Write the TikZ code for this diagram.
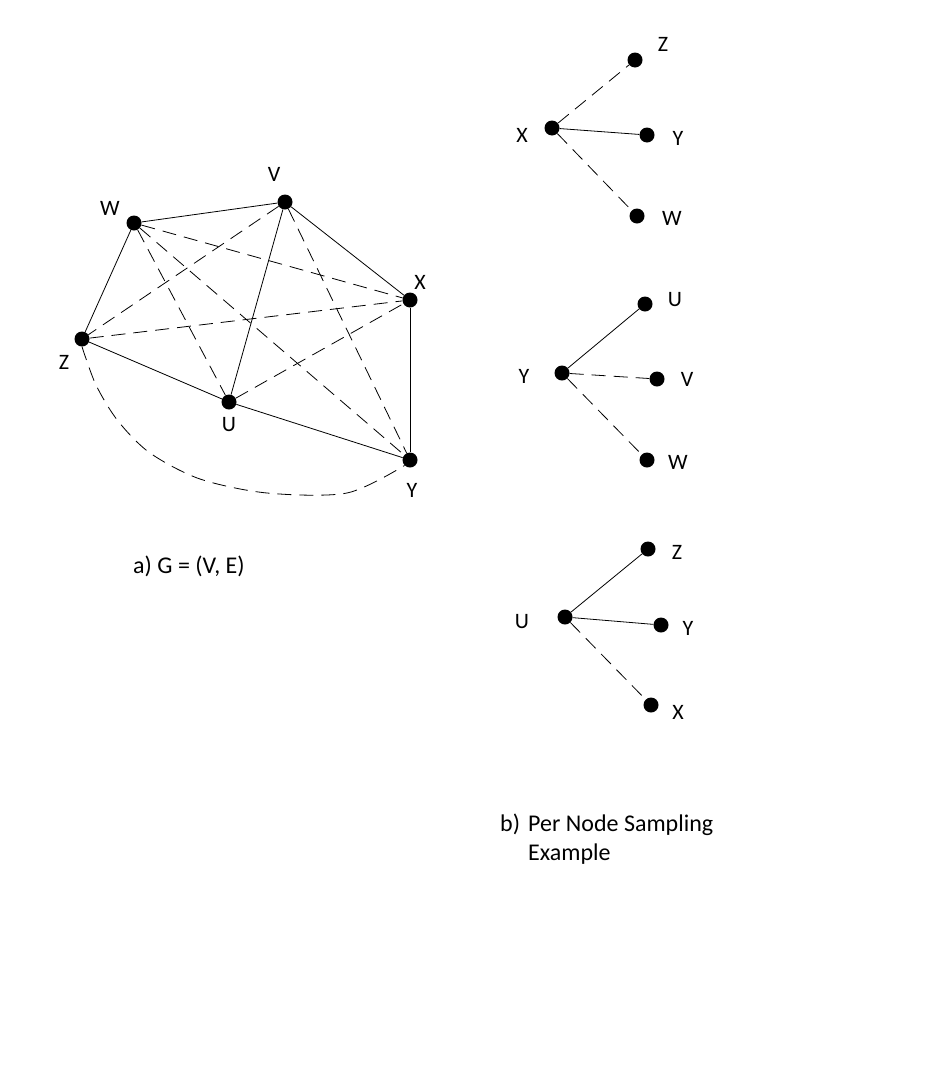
\documentclass[tikz,border=0pt]{standalone}
\usepackage{fontspec}
\setmainfont{Carlito}
\begin{document}
\begin{tikzpicture}[x=1pt,y=-1pt,
  dot/.style={circle,fill=black,inner sep=0pt,minimum size=15pt},
  lab/.style={inner sep=0pt,font=\fontsize{22}{26}\selectfont},
  captxt/.style={inner sep=0pt,font=\fontsize{24}{29}\selectfont},
  edge/.style={line width=0.8pt},
  dedge/.style={line width=0.8pt,dash pattern=on 14pt off 8pt}]
\useasboundingbox (0,0) rectangle (934,1082);
% left graph
\node[dot] (W) at (134,223) {};
\node[dot] (V) at (285,202) {};
\node[dot] (X) at (410,300) {};
\node[dot] (Z) at (82,339) {};
\node[dot] (U) at (229,402) {};
\node[dot] (Y) at (410,460) {};
\node[lab] (lW) at (110,208) {W};
\node[lab] (lV) at (274,174) {V};
\node[lab] (lX) at (420,282) {X};
\node[lab] (lZ) at (64,362) {Z};
\node[lab] (lU) at (229,425) {U};
\node[lab] (lY) at (412,490) {Y};
\draw[edge] (W) -- (V);
\draw[edge] (V) -- (X);
\draw[edge] (W) -- (Z);
\draw[edge] (V) -- (U);
\draw[edge] (X) -- (Y);
\draw[edge] (Z) -- (U);
\draw[edge] (U) -- (Y);
\draw[dedge] (W) -- (X);
\draw[dedge] (W) -- (U);
\draw[dedge] (W) -- (Y);
\draw[dedge] (V) -- (Z);
\draw[dedge] (V) -- (Y);
\draw[dedge] (Z) -- (X);
\draw[dedge] (U) -- (X);
\coordinate (c1) at (96,385);
\coordinate (c2) at (118,421);
\coordinate (c3) at (150,453);
\coordinate (c4) at (200,479);
\coordinate (c5) at (267,493);
\coordinate (c6) at (347,493);
\draw[dedge] plot[smooth,tension=0.5] coordinates {(Z.south) (c1) (c2) (c3) (c4) (c5) (c6) (Y.south west)};
\node[captxt,anchor=center] (ca) at (189,566) {a) G = (V, E)};
% right: X
\node[dot] (rX) at (552,128) {};
\node[dot] (rXZ) at (635,60) {};
\node[dot] (rXY) at (647,135) {};
\node[dot] (rXW) at (637,216) {};
\node[lab] (lrX) at (522,135) {X};
\node[lab] (lrXZ) at (663,44) {Z};
\node[lab] (lrXY) at (678,138) {Y};
\node[lab] (lrXW) at (672,218) {W};
\draw[dedge] (rX) -- (rXZ);
\draw[edge] (rX) -- (rXY);
\draw[dedge] (rX) -- (rXW);
% right: Y
\node[dot] (rY) at (562,373) {};
\node[dot] (rYU) at (645,304) {};
\node[dot] (rYV) at (657,379) {};
\node[dot] (rYW) at (647,460) {};
\node[lab] (lrY) at (524,376) {Y};
\node[lab] (lrYU) at (675,300) {U};
\node[lab] (lrYV) at (687,379) {V};
\node[lab] (lrYW) at (678,462) {W};
\draw[edge] (rY) -- (rYU);
\draw[dedge] (rY) -- (rYV);
\draw[dedge] (rY) -- (rYW);
% right: U
\node[dot] (rU) at (565,617) {};
\node[dot] (rUZ) at (648,549) {};
\node[dot] (rUY) at (661,625) {};
\node[dot] (rUX) at (651,705) {};
\node[lab] (lrU) at (522,622) {U};
\node[lab] (lrUZ) at (677,552) {Z};
\node[lab] (lrUY) at (688,628) {Y};
\node[lab] (lrUX) at (678,712) {X};
\draw[edge] (rU) -- (rUZ);
\draw[edge] (rU) -- (rUY);
\draw[dedge] (rU) -- (rUX);
% caption b
\node[captxt,anchor=base west] (cb1) at (500,831) {b)};
\node[captxt,anchor=base west] (cb2) at (528,831) {Per Node Sampling};
\node[captxt,anchor=base west] (cb3) at (528,860) {Example};
\end{tikzpicture}
\end{document}
